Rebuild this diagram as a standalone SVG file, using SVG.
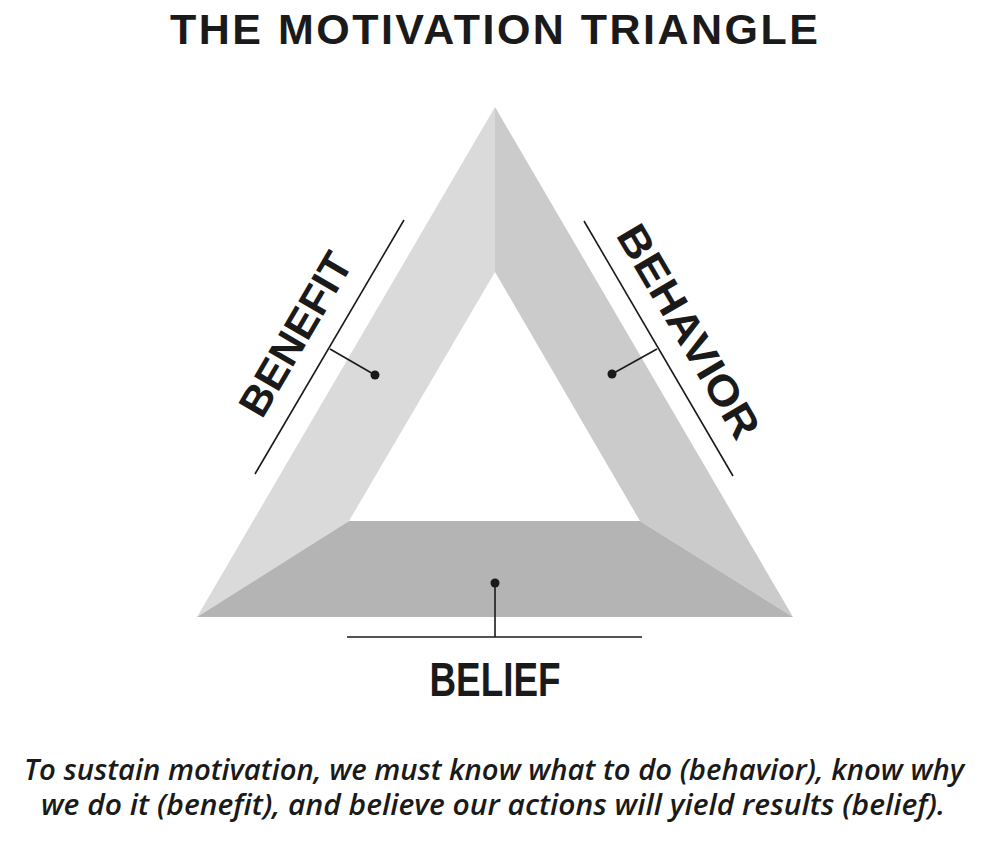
<svg xmlns="http://www.w3.org/2000/svg" width="986" height="854" viewBox="0 0 986 854">
<style>
.t{font-family:"Liberation Sans",Arial,sans-serif;font-weight:bold;fill:#1a1a1a}
.cap{font-family:"Open Sans","Liberation Sans",Arial,sans-serif;font-style:italic;font-weight:600;fill:#1a1a1a;font-size:28px}
.ln{stroke:#1a1a1a;stroke-width:1.6;fill:none}
.dot{fill:#1a1a1a}
</style>
<rect width="986" height="854" fill="#ffffff"/>
<text class="t" x="494" y="44" font-size="43" text-anchor="middle" textLength="648" lengthAdjust="spacing">THE MOTIVATION TRIANGLE</text>
<g id="triangle">
<polygon id="face-benefit" points="495,107 495,272 349,521 197,617" fill="#dadada"/>
<polygon id="face-behavior" points="495,107 793,617 640,521 495,272" fill="#cbcbcb"/>
<polygon id="face-belief" points="197,617 349,521 640,521 793,617" fill="#b4b4b4"/>
</g>
<g id="connectors">
<line class="ln" x1="404" y1="220" x2="255" y2="474"/>
<line class="ln" x1="330" y1="349" x2="375" y2="375"/>
<line class="ln" x1="584" y1="221" x2="733" y2="476"/>
<line class="ln" x1="657" y1="349" x2="612" y2="374"/>
<line class="ln" x1="347" y1="637" x2="642" y2="637"/>
<line class="ln" x1="495" y1="637" x2="495" y2="583"/>
<circle class="dot" cx="375" cy="375" r="4.5"/>
<circle class="dot" cx="612" cy="374" r="4.5"/>
<circle class="dot" cx="495" cy="583" r="4.5"/>
</g>
<g id="benefit">
<text class="t" font-size="42" text-anchor="middle" transform="translate(295,334) rotate(-59.6)" x="0" y="15" textLength="182" lengthAdjust="spacingAndGlyphs">BENEFIT</text>
</g>
<g id="behavior">
<text class="t" font-size="42" text-anchor="middle" transform="translate(689,331) rotate(59.6)" x="0" y="15" textLength="240" lengthAdjust="spacingAndGlyphs">BEHAVIOR</text>
</g>
<g id="belief">
<text class="t" font-size="49" x="495" y="696" text-anchor="middle" textLength="131" lengthAdjust="spacingAndGlyphs">BELIEF</text>
</g>
<g id="caption">
<text class="cap" x="494" y="780" text-anchor="middle" textLength="940" lengthAdjust="spacingAndGlyphs">To sustain motivation, we must know what to do (behavior), know why</text>
<text class="cap" x="493" y="815" text-anchor="middle" textLength="904" lengthAdjust="spacingAndGlyphs">we do it (benefit), and believe our actions will yield results (belief).</text>
</g>
</svg>
